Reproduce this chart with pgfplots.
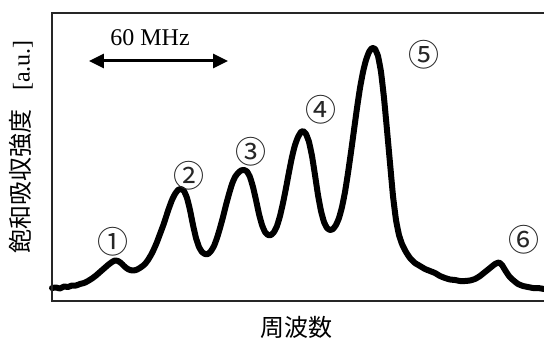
\documentclass[border=0pt]{standalone}
\usepackage{fontspec}
\setmainfont{Liberation Serif}
\newfontfamily\jp{Noto Sans CJK JP}
\usepackage{pgfplots}
\pgfplotsset{compat=1.18}
\usetikzlibrary{arrows.meta}
\pgfplotstableread{
px py
52 288
56 287.5
60 288.5
64 286.5
68 287
72 285.5
76 285.5
80 284
84 283
88 281
92 278.5
96 275.5
100 272
104 268.5
108 265
112 262
115 260.5
118 261
121 263
124 266
127 268.5
130 270
133 270.5
136 270
139 268.5
142 266.5
145 264
148 260
151 255
154 249
157 242
160 234
163 226
166 217
169 208
172 200
175 194
178 190
181 189
184 191
187 198
190 210
193 225
196 238
199 247
202 252
205 254
208 254
211 251
214 246
217 238
220 228
223 217
226 205
229 194
232 184
235 177
238 173
241 170.5
244 170
247 171.5
250 177
253 187
256 200
259 214
262 225
265 232
268 235
271 235
274 232
277 226
280 216
283 203
286 188
289 172
292 157
295 145
298 137
301 132
303 131
306 134
309 142
312 156
315 175
318 195
321 211
324 222
327 228
330 230
333 229
336 225
339 218
342 207
345 192
348 173
351 152
354 130
357 108
360 88
363 72
366 60
369 52
372 48
375 49
378 56
381 72
384 98
387 130
390 163
393 196
396 220
399 235
402 244
406 252
410 258
415 263
420 266
425 269
430 271
435 273
440 276
445 278
450 279.5
455 280
460 281
465 281
470 280.5
475 279
480 276
485 272
490 268
495 264
499 262.5
502 265
505 270
509 276
513 280
518 284
523 286
528 287
533 288
538 288
544 289
}\spectrum
\begin{document}
\begin{tikzpicture}
\begin{axis}[
  scale only axis, width=492bp, height=288bp,
  xmin=52, xmax=544, ymin=13, ymax=301, y dir=reverse,
  hide axis, clip=false,
]
\addplot[black, line width=6bp, line join=round, line cap=round, smooth, tension=0.25] table[x=px,y=py] {\spectrum};
\draw[line width=1.3bp, color=black!85] (axis cs:544,13) -- (axis cs:52,13) -- (axis cs:52,301) -- (axis cs:544,301);
\draw[line width=3bp, {Triangle[length=15bp,width=14bp]}-{Triangle[length=15bp,width=14bp]}] (axis cs:89,61) -- (axis cs:228,61);
\node[font=\fontsize{24bp}{28bp}\selectfont] at (axis cs:150,38) {60 MHz};
\tikzset{cn/.style={font=\fontsize{31bp}{34bp}\selectfont\jp\color{black!85}}}
\node[cn] at (axis cs:113,242) {①};
\node[cn] at (axis cs:189,176) {②};
\node[cn] at (axis cs:251,152) {③};
\node[cn] at (axis cs:321,110) {④};
\node[cn] at (axis cs:424,55) {⑤};
\node[cn] at (axis cs:524,240) {⑥};
\node[font=\fontsize{24bp}{28bp}\selectfont, rotate=90] at (axis cs:21,147) {{\jp 飽和吸収強度}\hspace{0.8em}[a.u.]};
\node[font=\fontsize{24bp}{28bp}\selectfont\jp] at (axis cs:296,327) {周波数};
\end{axis}
\pgfresetboundingbox
\path (-52bp,-42bp) rectangle (492bp,301bp);
\end{tikzpicture}
\end{document}
